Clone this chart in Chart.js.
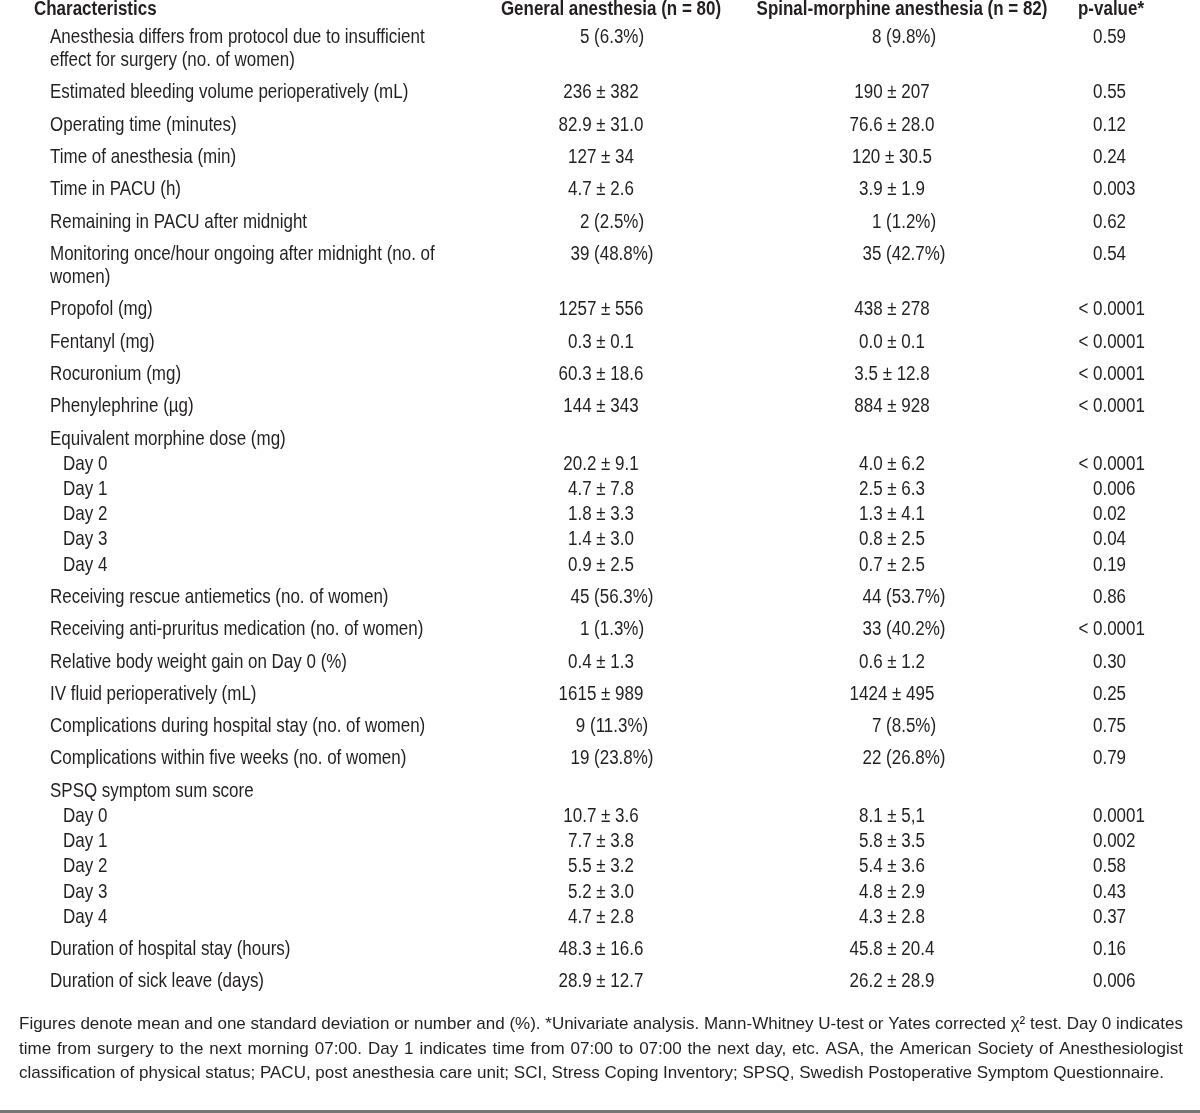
<!DOCTYPE html>
<html lang="en">
<head>
<meta charset="UTF-8">
<title>Perioperative characteristics</title>
<script src="https://cdn.jsdelivr.net/npm/chart.js"></script>
<style>
  html, body { margin: 0; padding: 0; background: #fff; }
  #wrap { width: 1200px; height: 1113px; }
</style>
</head>
<body>
<div id="wrap"><canvas id="tbl" width="1200" height="1113"></canvas></div>
<script>
// table content
const columnHeaders = ['Characteristics', 'General anesthesia (n = 80)', 'Spinal-morphine anesthesia (n = 82)', 'p-value*'];

const characteristics = [
  'Anesthesia differs from protocol due to insufficient\neffect for surgery (no. of women)',
  'Estimated bleeding volume perioperatively (mL)',
  'Operating time (minutes)',
  'Time of anesthesia (min)',
  'Time in PACU (h)',
  'Remaining in PACU after midnight',
  'Monitoring once/hour ongoing after midnight (no. of\nwomen)',
  'Propofol (mg)',
  'Fentanyl (mg)',
  'Rocuronium (mg)',
  'Phenylephrine (µg)',
  'Equivalent morphine dose (mg)',
  'Day 0', 'Day 1', 'Day 2', 'Day 3', 'Day 4',
  'Receiving rescue antiemetics (no. of women)',
  'Receiving anti-pruritus medication (no. of women)',
  'Relative body weight gain on Day 0 (%)',
  'IV fluid perioperatively (mL)',
  'Complications during hospital stay (no. of women)',
  'Complications within five weeks (no. of women)',
  'SPSQ symptom sum score',
  'Day 0', 'Day 1', 'Day 2', 'Day 3', 'Day 4',
  'Duration of hospital stay (hours)',
  'Duration of sick leave (days)'
];

// 0 = main row, 1 = indented sub row
const rowLevel = [0,0,0,0,0,0,0,0,0,0,0,0, 1,1,1,1,1, 0,0,0,0,0,0,0, 1,1,1,1,1, 0,0];

const generalAnesthesia = [
  '5 (6.3%)', '236 ± 382', '82.9 ± 31.0', '127 ± 34', '4.7 ± 2.6', '2 (2.5%)', '39 (48.8%)',
  '1257 ± 556', '0.3 ± 0.1', '60.3 ± 18.6', '144 ± 343', '',
  '20.2 ± 9.1', '4.7 ± 7.8', '1.8 ± 3.3', '1.4 ± 3.0', '0.9 ± 2.5',
  '45 (56.3%)', '1 (1.3%)', '0.4 ± 1.3', '1615 ± 989', '9 (11.3%)', '19 (23.8%)', '',
  '10.7 ± 3.6', '7.7 ± 3.8', '5.5 ± 3.2', '5.2 ± 3.0', '4.7 ± 2.8',
  '48.3 ± 16.6', '28.9 ± 12.7'
];

const spinalMorphine = [
  '8 (9.8%)', '190 ± 207', '76.6 ± 28.0', '120 ± 30.5', '3.9 ± 1.9', '1 (1.2%)', '35 (42.7%)',
  '438 ± 278', '0.0 ± 0.1', '3.5 ± 12.8', '884 ± 928', '',
  '4.0 ± 6.2', '2.5 ± 6.3', '1.3 ± 4.1', '0.8 ± 2.5', '0.7 ± 2.5',
  '44 (53.7%)', '33 (40.2%)', '0.6 ± 1.2', '1424 ± 495', '7 (8.5%)', '22 (26.8%)', '',
  '8.1 ± 5,1', '5.8 ± 3.5', '5.4 ± 3.6', '4.8 ± 2.9', '4.3 ± 2.8',
  '45.8 ± 20.4', '26.2 ± 28.9'
];

const pValues = [
  '0.59', '0.55', '0.12', '0.24', '0.003', '0.62', '0.54',
  '< 0.0001', '< 0.0001', '< 0.0001', '< 0.0001', '',
  '< 0.0001', '0.006', '0.02', '0.04', '0.19',
  '0.86', '< 0.0001', '0.30', '0.25', '0.75', '0.79', '',
  '0.0001', '0.002', '0.58', '0.43', '0.37',
  '0.16', '0.006'
];

const footnoteLines = [
  'Figures denote mean and one standard deviation or number and (%). *Univariate analysis. Mann-Whitney U-test or Yates corrected χ² test. Day 0 indicates',
  'time from surgery to the next morning 07:00. Day 1 indicates time from 07:00 to 07:00 the next day, etc. ASA, the American Society of Anesthesiologist',
  'classification of physical status; PACU, post anesthesia care unit; SCI, Stress Coping Inventory; SPSQ, Swedish Postoperative Symptom Questionnaire.'
];

// layout (pixel units, scales map 1:1 to the canvas)
const L = {
  headerY: 9.5, firstGap: 27.5, mainStep: 32.3, subStep: 25.2, wrapStep: 23.3,
  footGap: 43, footStep: 24.5,
  labelX: 50, subX: 63,
  genX: 601, spiX: 892, genCountX: 612, spiCountX: 904, pX: 1093,
  headX: [34, 611, 902, 1111],
  footLeft: 19, footRight: 1183
};

function hasFont(name) {
  const c = document.createElement('canvas').getContext('2d');
  const s = 'mmmmmmmmmmlli Characteristics 0123';
  c.font = '40px monospace';
  const a = c.measureText(s).width;
  c.font = '40px "' + name + '", monospace';
  return c.measureText(s).width !== a;
}
const narrow = hasFont('Liberation Sans Narrow');
const FAMILY = narrow ? '"Liberation Sans Narrow"' : '"Liberation Sans", Arial, sans-serif';
const HSCALE = narrow ? 1 : 0.82;
const FOOT_FAMILY = '"Liberation Sans", Arial, sans-serif';
const INK = '#231f20';

// row positions
const rowY = [];
let yy = L.headerY + L.firstGap;
characteristics.forEach((lab, i) => {
  if (i > 0) {
    const prevLines = characteristics[i - 1].split('\n').length;
    yy += (prevLines - 1) * L.wrapStep + (rowLevel[i] ? L.subStep : L.mainStep);
  }
  rowY.push(yy);
});
const lastY = rowY[rowY.length - 1];

const isCount = s => s.indexOf('%') >= 0;

const labelPts = characteristics.map((t, i) => ({ x: rowLevel[i] ? L.subX : L.labelX, y: rowY[i] }));
const genPts = generalAnesthesia.map((t, i) => ({ x: isCount(t) ? L.genCountX : L.genX, y: rowY[i] }));
const spiPts = spinalMorphine.map((t, i) => ({ x: isCount(t) ? L.spiCountX : L.spiX, y: rowY[i] }));
const pPts = pValues.map((t, i) => ({ x: L.pX, y: rowY[i] }));

function drawText(ctx, text, x, y, align, font, hs) {
  ctx.save();
  ctx.font = font;
  ctx.textAlign = align;
  ctx.textBaseline = 'middle';
  ctx.fillStyle = INK;
  ctx.translate(x, y);
  ctx.scale(hs === undefined ? HSCALE : hs, 1);
  ctx.fillText(text, 0, 0);
  ctx.restore();
}

const tableText = {
  id: 'tableText',
  afterDatasetsDraw(chart) {
    const ctx = chart.ctx;
    const xs = chart.scales.x, ys = chart.scales.y;
    const body = '20.7px ' + FAMILY;
    const bold = 'bold 20.7px ' + FAMILY;

    // header
    const hy = ys.getPixelForValue(L.headerY);
    columnHeaders.forEach((h, c) => {
      drawText(ctx, h, xs.getPixelForValue(L.headX[c]), hy, c === 0 ? 'left' : 'center', bold);
    });

    // cells
    const texts = [characteristics, generalAnesthesia, spinalMorphine, pValues];
    chart.data.datasets.forEach((ds, d) => {
      const meta = chart.getDatasetMeta(d);
      meta.data.forEach((el, i) => {
        const txt = texts[d][i];
        if (d === 3) {
          // p-values: number left aligned, "<" hangs to the left
          const m = txt.match(/^(<\s*)?(.*)$/);
          if (m[1]) drawText(ctx, '< ', el.x, el.y, 'right', body);
          drawText(ctx, m[2], el.x, el.y, 'left', body);
          return;
        }
        const lines = txt.split('\n');
        lines.forEach((ln, k) => {
          const py = k === 0 ? el.y : ys.getPixelForValue(ds.data[i].y + k * L.wrapStep);
          drawText(ctx, ln, el.x, py, d === 0 ? 'left' : 'center', body);
        });
      });
    });

    // footnote, justified except last line
    const foot = '17px ' + FOOT_FAMILY;
    ctx.save();
    ctx.font = foot;
    const left = xs.getPixelForValue(L.footLeft), right = xs.getPixelForValue(L.footRight);
    footnoteLines.forEach((line, k) => {
      const py = ys.getPixelForValue(lastY + L.footGap + k * L.footStep);
      const words = line.split(' ');
      const widths = words.map(w => ctx.measureText(w).width);
      const total = widths.reduce((a, b) => a + b, 0);
      const last = k === footnoteLines.length - 1;
      const gap = last ? ctx.measureText(' ').width : (right - left - total) / (words.length - 1);
      let x = left;
      words.forEach((w, j) => {
        drawText(ctx, w, x, py, 'left', foot, 1);
        x += widths[j] + gap;
      });
    });
    ctx.restore();

    // bottom rule
    ctx.save();
    ctx.fillStyle = '#767676';
    ctx.fillRect(chart.chartArea.left, ys.getPixelForValue(1110), chart.chartArea.right - chart.chartArea.left, 3);
    ctx.restore();
  }
};

const mkSet = (label, pts) => ({ label, data: pts, pointRadius: 0, pointHoverRadius: 0, showLine: false });

new Chart(document.getElementById('tbl'), {
  type: 'scatter',
  data: {
    datasets: [
      mkSet('Characteristics', labelPts),
      mkSet('General anesthesia', genPts),
      mkSet('Spinal-morphine anesthesia', spiPts),
      mkSet('p-value', pPts)
    ]
  },
  options: {
    responsive: false,
    animation: false,
    events: [],
    layout: { padding: 0 },
    plugins: { legend: { display: false }, tooltip: { enabled: false } },
    scales: {
      x: { type: 'linear', min: 0, max: 1200, display: false },
      y: { type: 'linear', min: 0, max: 1113, reverse: true, display: false }
    }
  },
  plugins: [tableText]
});
</script>
</body>
</html>
